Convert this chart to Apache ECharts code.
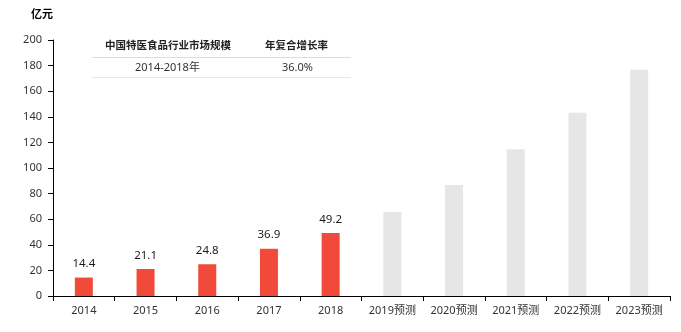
<!DOCTYPE html>
<html><head><meta charset="utf-8">
<script src="https://cdn.jsdelivr.net/npm/echarts@6/dist/echarts.min.js"></script>
<style>html,body{margin:0;padding:0;background:#fff}#c{width:681px;height:332px}</style>
</head><body><div id="c"></div>
<script>
var categories = ['2014','2015','2016','2017','2018','2019预测','2020预测','2021预测','2022预测','2023预测'];
var actualValues = [14.4, 21.1, 24.8, 36.9, 49.2, null, null, null, null, null];
var forecastValues = [null, null, null, null, null, 65.7, 86.8, 114.6, 143.1, 176.7];
var yTicks = {min: 0, max: 200, interval: 20};
var tableHeader = ['中国特医食品行业市场规模', '年复合增长率'];
var tableRow = ['2014-2018年', '36.0%'];

var chart = echarts.init(document.getElementById('c'));
var font = '"Noto Sans","Noto Sans CJK SC",sans-serif';
chart.setOption({
  animation: false,
  textStyle: {fontFamily: font},
  grid: {left: 53, right: 11, top: 40, bottom: 36},
  xAxis: {
    type: 'category', data: categories,
    axisLine: {lineStyle: {color: '#000', width: 1}},
    axisTick: {show: true, alignWithLabel: false, interval: 0, length: 5, lineStyle: {color: '#000'}},
    axisLabel: {color: '#333', fontSize: 11, margin: 9, interval: 0, fontFamily: font}
  },
  yAxis: {
    type: 'value', min: yTicks.min, max: yTicks.max, interval: yTicks.interval,
    name: '亿元', nameLocation: 'end', nameGap: 20,
    nameTextStyle: {color: '#000', fontSize: 11, fontWeight: 'bold', align: 'right', fontFamily: font},
    axisLine: {show: true, lineStyle: {color: '#000', width: 1}},
    axisTick: {show: true, length: 5, lineStyle: {color: '#000'}},
    splitLine: {show: false},
    axisLabel: {color: '#333', fontSize: 11, margin: 11, fontFamily: font}
  },
  series: [
    {type: 'bar', data: actualValues, barWidth: 18, barGap: '-100%',
     itemStyle: {color: '#f24a3a'},
     label: {show: true, position: 'top', distance: 8, color: '#1a1a1a', fontSize: 11.5, fontFamily: font}},
    {type: 'bar', data: forecastValues, barWidth: 18,
     itemStyle: {color: '#e6e6e6'}}
  ],
  graphic: [
    {type: 'text', left: 105, top: 41, style: {text: tableHeader[0], fill: '#222', font: 'bold 10.5px ' + font}},
    {type: 'text', left: 265, top: 41, style: {text: tableHeader[1], fill: '#222', font: 'bold 10.5px ' + font}},
    {type: 'line', shape: {x1: 92, y1: 57.5, x2: 351, y2: 57.5}, style: {stroke: '#dcdcdc', lineWidth: 1}},
    {type: 'text', left: 135, top: 62, style: {text: tableRow[0], fill: '#333', font: '11px ' + font}},
    {type: 'text', left: 282, top: 62, style: {text: tableRow[1], fill: '#333', font: '11px ' + font}},
    {type: 'line', shape: {x1: 92, y1: 77.5, x2: 351, y2: 77.5}, style: {stroke: '#e6e6e6', lineWidth: 1}}
  ]
});
</script></body></html>
